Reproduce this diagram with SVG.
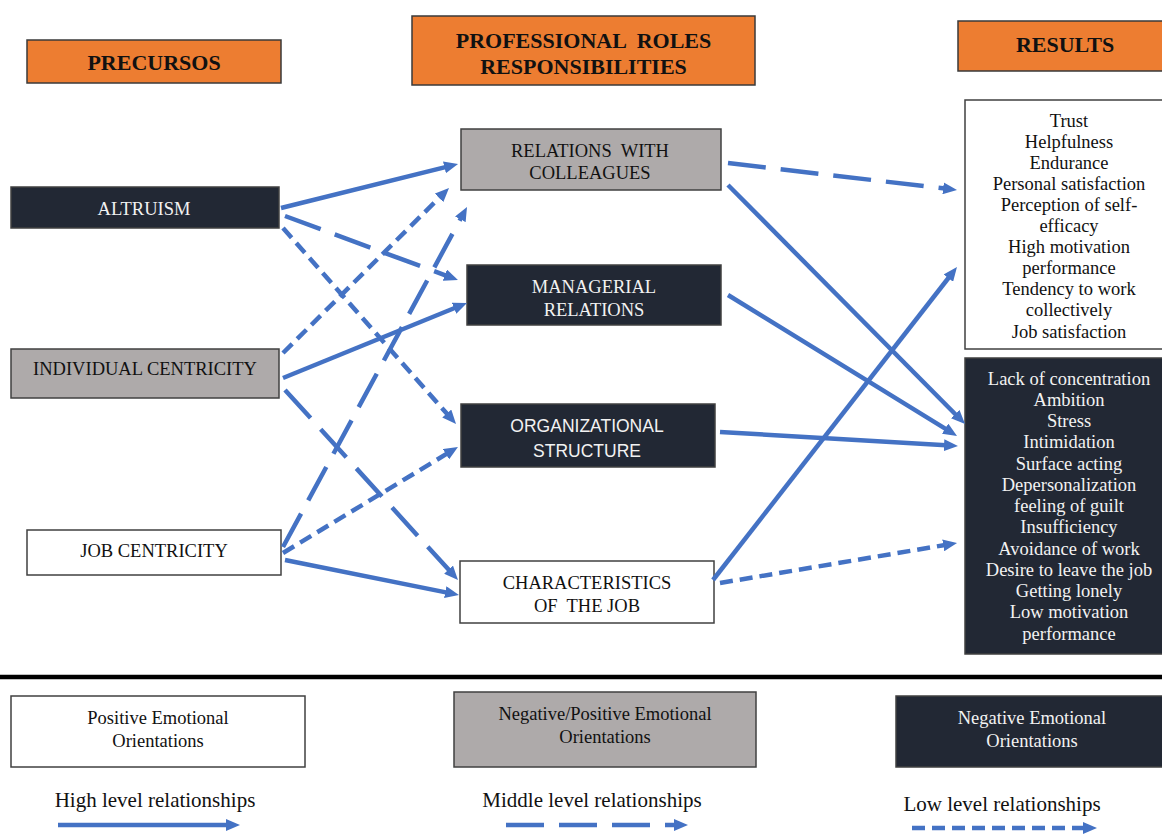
<svg xmlns="http://www.w3.org/2000/svg" width="1162" height="834" viewBox="0 0 1162 834">
<style>
.box{stroke:#404040;stroke-width:1.5}
.org{fill:#ED7D31;stroke:#3a3a3a;stroke-width:1.5}
.dark{fill:#222834}
.gray{fill:#AEAAAA}
.white{fill:#FFFFFF}
.t{font-family:"Liberation Serif","Times New Roman",serif;font-size:18.5px;text-anchor:middle;fill:#111}
.tw{fill:#F2F2F2}
.h{font-family:"Liberation Serif","Times New Roman",serif;font-size:22px;font-weight:bold;text-anchor:middle;fill:#111}
.s{font-family:"Liberation Sans",Arial,sans-serif;font-size:17.5px;text-anchor:middle;fill:#F2F2F2}
.lg{font-family:"Liberation Serif","Times New Roman",serif;font-size:21px;text-anchor:middle;fill:#111}
.c{fill:none;stroke:#4472C4;stroke-width:4.5;marker-end:url(#ah)}
.hi{}
.mid{stroke-dasharray:38 15}
.low{stroke-dasharray:13 7}
</style>
<defs>
<marker id="ah" markerUnits="userSpaceOnUse" markerWidth="14" markerHeight="12" refX="2" refY="6" orient="auto">
<path d="M0,0 L14,6 L0,12 z" fill="#4472C4"/>
</marker>
</defs>
<rect width="1162" height="834" fill="#FFFFFF"/>

<g id="hdr-precursos"><rect class="org" x="27" y="40" width="254" height="43"/><text class="h" x="154" y="69.5">PRECURSOS</text></g>
<g id="hdr-roles"><rect class="org" x="412" y="16" width="343" height="69"/><text class="h" x="583.5" y="47.5" xml:space="preserve">PROFESSIONAL  ROLES</text><text class="h" x="583.5" y="73.5">RESPONSIBILITIES</text></g>
<g id="hdr-results"><rect class="org" x="958" y="21" width="210" height="50"/><text class="h" x="1065" y="51.5">RESULTS</text></g>

<g id="altruism"><rect class="box dark" x="11" y="187" width="268" height="41"/><text class="t tw" x="144" y="214.5">ALTRUISM</text></g>
<g id="individual"><rect class="box gray" x="11" y="349" width="268" height="49"/><text class="t" x="145" y="374.5">INDIVIDUAL CENTRICITY</text></g>
<g id="job"><rect class="box white" x="27" y="530" width="254" height="45"/><text class="t" x="154" y="556.5">JOB CENTRICITY</text></g>

<g id="relations"><rect class="box gray" x="461" y="129" width="260" height="61"/><text class="t" x="590" y="156.5" xml:space="preserve">RELATIONS  WITH</text><text class="t" x="590" y="178.5">COLLEAGUES</text></g>
<g id="managerial"><rect class="box dark" x="467" y="265" width="254" height="60"/><text class="t tw" x="594" y="292.5">MANAGERIAL</text><text class="t tw" x="594" y="315.5">RELATIONS</text></g>
<g id="organizational"><rect class="box dark" x="461" y="404" width="254" height="63"/><text class="s" x="587" y="432">ORGANIZATIONAL</text><text class="s" x="587" y="457">STRUCTURE</text></g>
<g id="characteristics"><rect class="box white" x="460" y="561" width="254" height="62"/><text class="t" x="587" y="588.5">CHARACTERISTICS</text><text class="t" x="587" y="611.5" xml:space="preserve">OF  THE JOB</text></g>

<g id="positive-results"><rect class="box white" x="965" y="100" width="205" height="249"/>
<text class="t" x="1069" y="126.5">Trust</text>
<text class="t" x="1069" y="147.6">Helpfulness</text>
<text class="t" x="1069" y="168.7">Endurance</text>
<text class="t" x="1069" y="189.8">Personal satisfaction</text>
<text class="t" x="1069" y="210.9">Perception of self-</text>
<text class="t" x="1069" y="232">efficacy</text>
<text class="t" x="1069" y="253.1">High motivation</text>
<text class="t" x="1069" y="274.2">performance</text>
<text class="t" x="1069" y="295.3">Tendency to work</text>
<text class="t" x="1069" y="316.4">collectively</text>
<text class="t" x="1069" y="337.5">Job satisfaction</text>
</g>
<g id="negative-results"><rect class="box dark" x="965" y="358" width="205" height="296"/>
<text class="t tw" x="1069" y="384.5">Lack of concentration</text>
<text class="t tw" x="1069" y="405.7">Ambition</text>
<text class="t tw" x="1069" y="427">Stress</text>
<text class="t tw" x="1069" y="448.2">Intimidation</text>
<text class="t tw" x="1069" y="469.5">Surface acting</text>
<text class="t tw" x="1069" y="490.7">Depersonalization</text>
<text class="t tw" x="1069" y="512">feeling of guilt</text>
<text class="t tw" x="1069" y="533.2">Insufficiency</text>
<text class="t tw" x="1069" y="554.5">Avoidance of work</text>
<text class="t tw" x="1069" y="575.7">Desire to leave the job</text>
<text class="t tw" x="1069" y="597">Getting lonely</text>
<text class="t tw" x="1069" y="618.2">Low motivation</text>
<text class="t tw" x="1069" y="639.5">performance</text>
</g>

<g id="connectors">
<line class="c hi" x1="281" y1="208" x2="446.4" y2="166.9"/>
<line class="c mid" x1="285" y1="216" x2="446.7" y2="275.8"/>
<line class="c low" x1="283" y1="228" x2="448.1" y2="415"/>
<line class="c low" x1="283" y1="353" x2="440.5" y2="196.5"/>
<line class="c hi" x1="283" y1="378" x2="455.9" y2="307.5"/>
<line class="c mid" x1="285" y1="390" x2="449.9" y2="571.1"/>
<line class="c mid" x1="283" y1="547" x2="461.3" y2="217.5"/>
<line class="c low" x1="283" y1="553" x2="447.7" y2="453.2"/>
<line class="c hi" x1="285" y1="560" x2="447.2" y2="592.6"/>
<line class="c mid" x1="728" y1="163" x2="945.1" y2="188.6"/>
<line class="c hi" x1="728" y1="185" x2="956.6" y2="415.5"/>
<line class="c hi" x1="728" y1="295" x2="946.8" y2="429.7"/>
<line class="c hi" x1="720" y1="432" x2="946" y2="445.3"/>
<line class="c hi" x1="713" y1="580" x2="949.6" y2="276.5"/>
<line class="c low" x1="720" y1="583" x2="945.2" y2="545"/>
</g>

<g id="separator"><line x1="0" y1="677" x2="1162" y2="677" stroke="#000" stroke-width="4.5"/></g>

<g id="legend-positive"><rect class="box white" x="11" y="696" width="294" height="71"/><text class="t" x="158" y="723.5">Positive Emotional</text><text class="t" x="158" y="746.5">Orientations</text></g>
<g id="legend-mixed"><rect class="box gray" x="454" y="692" width="302" height="75"/><text class="t" x="605" y="719.5">Negative/Positive Emotional</text><text class="t" x="605" y="742.5">Orientations</text></g>
<g id="legend-negative"><rect class="box dark" x="896" y="696" width="270" height="71"/><text class="t tw" x="1032" y="723.5">Negative Emotional</text><text class="t tw" x="1032" y="746.5">Orientations</text></g>

<g id="legend-high"><text class="lg" x="155" y="807">High level relationships</text><line class="c hi" x1="58" y1="825" x2="228" y2="825"/></g>
<g id="legend-middle"><text class="lg" x="592" y="807">Middle level relationships</text><line class="c mid" x1="506" y1="825" x2="676" y2="825"/></g>
<g id="legend-low"><text class="lg" x="1002" y="811">Low level relationships</text><line class="c low" x1="912" y1="828" x2="1085" y2="828"/></g>
</svg>
